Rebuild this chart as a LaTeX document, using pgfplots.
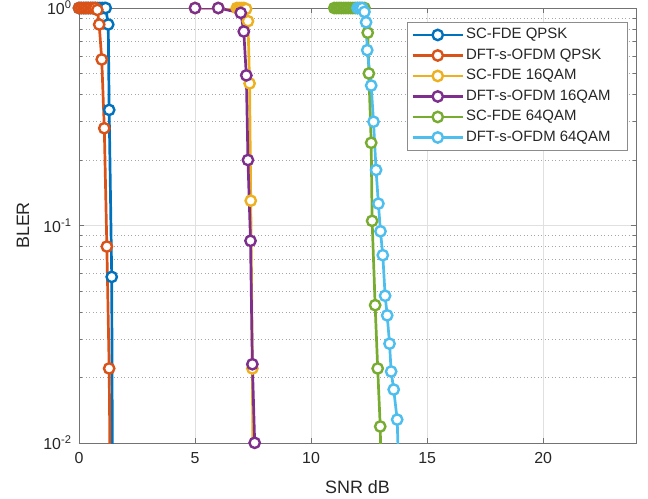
\documentclass[border=0pt]{standalone}
\usepackage{pgfplots}
\pgfplotsset{compat=1.18}
\usepackage{fontspec}
\setmainfont{Liberation Sans}
\definecolor{c1}{rgb}{0,0.447,0.741}
\definecolor{c2}{rgb}{0.850,0.325,0.098}
\definecolor{c3}{rgb}{0.929,0.694,0.125}
\definecolor{c4}{rgb}{0.494,0.184,0.556}
\definecolor{c5}{rgb}{0.466,0.674,0.188}
\definecolor{c6}{rgb}{0.301,0.745,0.933}
\begin{document}
\begin{tikzpicture}
\begin{axis}[
  scale only axis, width=557bp, height=435bp,
  ymode=log, xmin=0, xmax=24, ymin=0.00999, ymax=1.0001,
  xtick={0,5,10,15,20}, xticklabels={0,5,10,15,20},
  ytick={0.01,0.1,1},
  yticklabels={10\textsuperscript{-2},10\textsuperscript{-1},10\textsuperscript{0}},
  minor x tick num=0,
  grid=both,
  major grid style={black!12, line width=0.6bp},
  minor grid style={black!35, dash pattern=on 1bp off 2.5bp, line width=0.6bp},
  axis line style={black!55, line width=0.6bp},
  tick style={black!55, line width=0.6bp},
  major tick length=5bp, minor tick length=3bp,
  tick label style={font=\fontsize{16}{18}\selectfont, text=black!85},
  xticklabel style={yshift=-6bp},
  yticklabel style={xshift=-4bp},
  xlabel={SNR dB}, ylabel={BLER},
  label style={font=\fontsize{18}{20}\selectfont, text=black!85},
  xlabel style={at={(axis description cs:0.5,-0.101)}, anchor=center},
  ylabel style={at={(axis description cs:-0.1006,0.5)}, anchor=center},
  legend style={at={(axis description cs:0.589,0.968)}, anchor=north west,
    draw=black!45, line width=0.6bp, fill=white,
    font=\fontsize{15}{17}\selectfont, text=black!85,
    inner xsep=4bp, inner ysep=4bp, row sep=3bp,
    nodes={inner sep=2bp, text height=10.5bp, text depth=3bp}},
  legend cell align=left,
  legend image code/.code={\draw[mark repeat=2,mark phase=2,#1] plot coordinates {(0bp,0bp) (25bp,0bp) (50bp,0bp)};},
  every axis plot/.append style={line width=2.7bp, mark=*, mark size=5.2bp,
    mark options={fill=white, solid, line width=2.4bp}},
]
\coordinate (ll) at (rel axis cs:0,0);
\coordinate (ur) at (rel axis cs:1,1);
\addplot[c1] coordinates {(0,1)(0.1,1)(0.2,1)(0.3,1)(0.4,1)(0.5,1)(0.6,1)(0.7,1)(0.8,1)(0.9,1)(1.0,1)(1.1,1)(1.15,1)(1.26,0.84)(1.30,0.34)(1.41,0.058)(1.5,0.0001)};
\addlegendentry{SC-FDE QPSK}
\addplot[c2] coordinates {(0,1)(0.1,1)(0.2,1)(0.3,1)(0.4,1)(0.5,1)(0.6,1)(0.7,1)(0.79,0.98)(0.87,0.84)(0.98,0.58)(1.09,0.28)(1.20,0.080)(1.30,0.022)(1.40,0.0015)};
\addlegendentry{DFT-s-OFDM QPSK}
\addplot[c3] coordinates {(5,1)(6,1)(6.8,1)(6.9,1)(7.0,1)(7.1,1)(7.2,0.99)(7.28,0.87)(7.35,0.45)(7.40,0.13)(7.47,0.022)(7.55,0.001)};
\addlegendentry{SC-FDE 16QAM}
\addplot[c4] coordinates {(5,1)(6,1)(6.97,0.95)(7.10,0.78)(7.21,0.49)(7.28,0.20)(7.39,0.085)(7.47,0.023)(7.57,0.01001)};
\addlegendentry{DFT-s-OFDM 16QAM}
\addplot[c5] coordinates {(11.0,1)(11.1,1)(11.2,1)(11.3,1)(11.4,1)(11.5,1)(11.6,1)(11.7,1)(11.8,1)(11.9,1)(12.0,1)(12.1,1)(12.2,1)(12.3,1)(12.44,0.77)(12.49,0.50)(12.59,0.24)(12.63,0.105)(12.76,0.043)(12.87,0.022)(12.98,0.0119)(13.1,0.002)};
\addlegendentry{SC-FDE 64QAM}
\addplot[c6] coordinates {(12.0,1)(12.1,1)(12.2,1)(12.30,0.96)(12.37,0.86)(12.42,0.64)(12.59,0.44)(12.69,0.30)(12.80,0.18)(12.90,0.126)(12.99,0.094)(13.09,0.073)(13.19,0.0475)(13.28,0.0386)(13.38,0.0286)(13.45,0.0213)(13.56,0.0176)(13.71,0.0128)(13.85,0.004)};
\addlegendentry{DFT-s-OFDM 64QAM\hspace*{11bp}}
\end{axis}
\pgfresetboundingbox
\path ([xshift=-79bp,yshift=-56bp]ll) rectangle ([xshift=12bp,yshift=8bp]ur);
\end{tikzpicture}
\end{document}
